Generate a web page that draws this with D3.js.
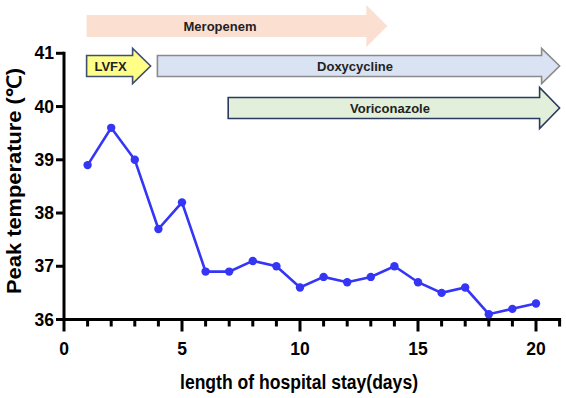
<!DOCTYPE html>
<html><head><meta charset="utf-8">
<script src="https://cdn.jsdelivr.net/npm/d3@7"></script>
<style>body{margin:0;background:#fff}svg{display:block}</style>
</head><body><svg id="c" width="566" height="398"></svg>
<script>
const days = [1,2,3,4,5,6,7,8,9,10,11,12,13,14,15,16,17,18,19,20];
const temps = [38.9,39.6,39.0,37.7,38.2,36.9,36.9,37.1,37.0,36.6,36.8,36.7,36.8,37.0,36.7,36.5,36.6,36.1,36.2,36.3];
const xTicks = [0,5,10,15,20];
const yTicks = [36,37,38,39,40,41];
const drugNames = ["Meropenem","LVFX","Doxycycline","Voriconazole"];
const drugStart = [1,1,4,7];
const drugEnd = [13.7,3.67,21,21];
const drugRow = [0,1,1,2];
const drugFill = ["#fbe0d2","#ffff88","#dae3f3","#e2efda"];
const drugStroke = ["none","#3f4f6f","#8a8a8a","#2b3a5c"];

const svg = d3.select("#c");
const x = d3.scaleLinear().domain([0,21]).range([64,559.6]);
const y = d3.scaleLinear().domain([36,41]).range([319.5,53.3]);
const font = "'Liberation Sans', Arial, sans-serif";

// arrows
const rowCenter = [26, 66, 108];
const bodyH = [22, 21, 21];
const headH = [42, 35, 41];
const headL = [21, 18, 20];
drugNames.forEach((n,i)=>{
  const r = drugRow[i];
  const x0 = x(drugStart[i]) - 1, x1 = x(drugEnd[i]);
  const cy = rowCenter[r], bh = bodyH[r]/2, hh = headH[r]/2, hl = (i===1)?18:headL[r];
  const pts = [[x0,cy-bh],[x1-hl,cy-bh],[x1-hl,cy-hh],[x1,cy],[x1-hl,cy+hh],[x1-hl,cy+bh],[x0,cy+bh]];
  svg.append("path").attr("d", "M"+pts.map(p=>p.join(",")).join("L")+"Z")
    .attr("fill", drugFill[i]).attr("stroke", drugStroke[i]).attr("stroke-width", 1.6);
  const tx = i===1 ? (x0 + x1 - hl)/2 + 1 : (i===0 ? 220 : (i===2 ? 355 : 390));
  svg.append("text").attr("x", tx).attr("y", cy+4.5).attr("text-anchor","middle")
    .attr("font-family", font).attr("font-weight","bold").attr("font-size", 13)
    .attr("fill","#222").text(n);
});

// axes
const gx = svg.append("g").attr("transform",`translate(0,${y(36)})`);
gx.append("line").attr("x1",x(0)-1.5).attr("x2",x(21)+1.5).attr("stroke","#000").attr("stroke-width",3);
d3.range(0,22).forEach(d=>{
  gx.append("line").attr("x1",x(d)).attr("x2",x(d)).attr("y1",0).attr("y2", d%5===0?12:7)
    .attr("stroke","#000").attr("stroke-width",3);
});
xTicks.forEach(d=>{
  gx.append("text").attr("x",x(d)).attr("y",35).attr("text-anchor","middle")
    .attr("font-family",font).attr("font-weight","bold").attr("font-size",17.5).text(d);
});
const gy = svg.append("g").attr("transform",`translate(${x(0)},0)`);
gy.append("line").attr("y1",y(36)+1.5).attr("y2",y(41)-1.5).attr("stroke","#000").attr("stroke-width",3);
yTicks.forEach(d=>{
  gy.append("line").attr("x1",-8).attr("x2",0).attr("y1",y(d)).attr("y2",y(d)).attr("stroke","#000").attr("stroke-width",3);
  gy.append("text").attr("x",-10).attr("y",y(d)+6).attr("text-anchor","end")
    .attr("font-family",font).attr("font-weight","bold").attr("font-size",17.5).text(d);
});

// titles
svg.append("text").attr("x",299).attr("y",389).attr("text-anchor","middle")
  .attr("font-family",font).attr("font-weight","bold").attr("font-size",20)
  .attr("textLength",238).attr("lengthAdjust","spacingAndGlyphs").text("length of hospital stay(days)");
svg.append("text").attr("transform","translate(21,181) rotate(-90)").attr("text-anchor","middle")
  .attr("font-family",font).attr("font-weight","bold").attr("font-size",20)
  .attr("textLength",226).attr("lengthAdjust","spacingAndGlyphs").text("Peak temperature (℃)");

// line
const line = d3.line().x((d,i)=>x(days[i])).y(d=>y(d));
svg.append("path").datum(temps).attr("d",line).attr("fill","none").attr("stroke","#3535f5").attr("stroke-width",2.6);
svg.selectAll("circle.pt").data(temps).enter().append("circle").attr("class","pt")
  .attr("cx",(d,i)=>x(days[i])).attr("cy",d=>y(d)).attr("r",4.2).attr("fill","#3535f5");
</script></body></html>
